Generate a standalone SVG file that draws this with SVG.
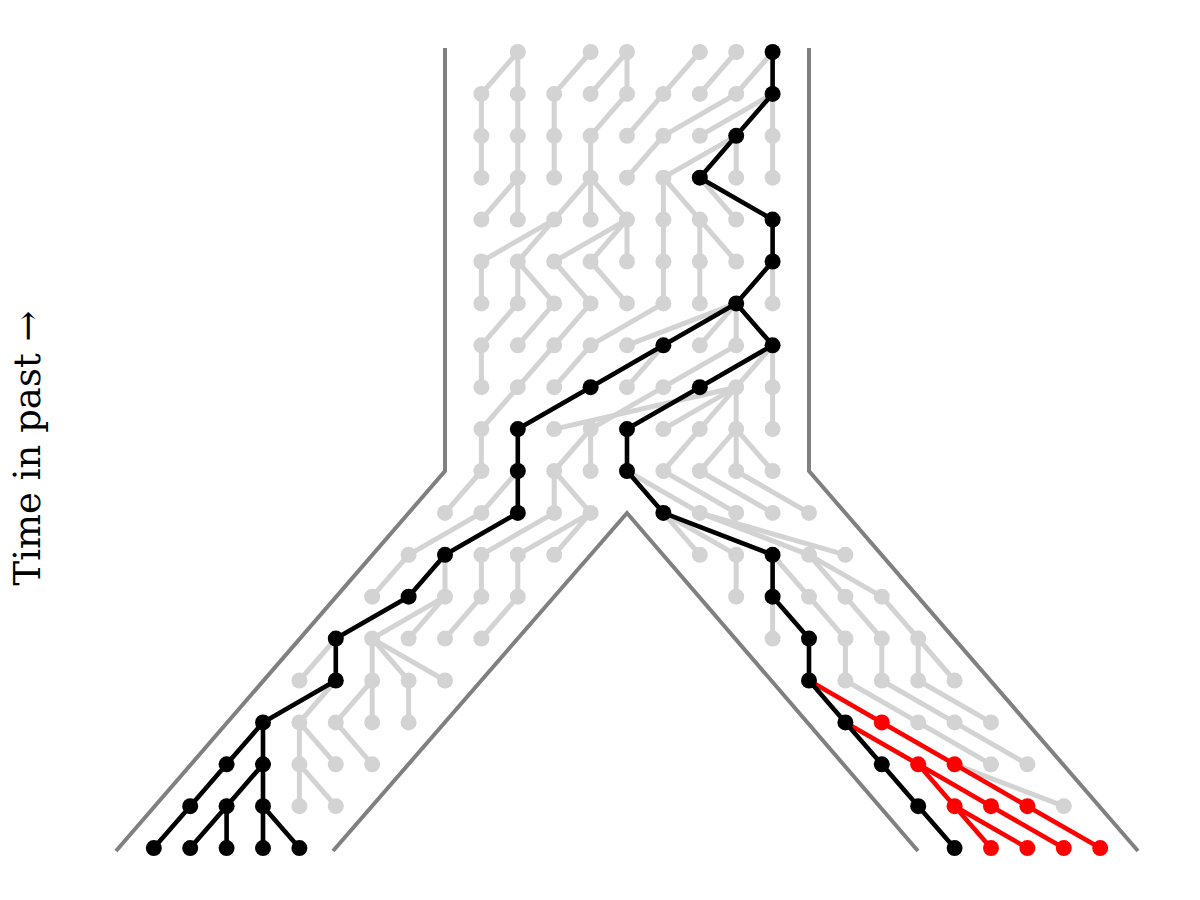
<svg xmlns="http://www.w3.org/2000/svg" width="1200" height="900" viewBox="0 0 1200 900">
<style>
.wall{fill:none;stroke:#808080;stroke-width:4}
.eg path{fill:none;stroke:#d3d3d3;stroke-width:5;stroke-linecap:round}
.eb path{fill:none;stroke:#000;stroke-width:4.6;stroke-linecap:round}
.er path{fill:none;stroke:#ff0000;stroke-width:4.6;stroke-linecap:round}
.g{fill:#d3d3d3}
.b{fill:#000}
.r{fill:#ff0000}
.lbl{font-family:"DejaVu Serif","Liberation Serif",serif;font-size:37px;fill:#000}
</style>
<rect width="1200" height="900" fill="#fff"/>
<g id="walls">
<path class="wall" d="M445 48V471L116 851"/>
<path class="wall" d="M809 48V471L1138 851"/>
<path class="wall" d="M333 851L627 513L918 851"/>
</g>
<text class="lbl" transform="translate(40,448) rotate(-90)" text-anchor="middle">Time in past →</text>
<g id="connectors">
<g class="eg">
<path d="M481.4 93.9L517.8 52"/><path d="M517.8 93.9L517.8 52"/><path d="M554.2 93.9L590.6 52"/><path d="M590.6 93.9L627 52"/><path d="M627 93.9L627 52"/><path d="M663.4 93.9L699.8 52"/><path d="M699.8 93.9L736.2 52"/><path d="M736.2 93.9L772.6 52"/>
<path d="M481.4 135.8L481.4 93.9"/><path d="M517.8 135.8L517.8 93.9"/><path d="M554.2 135.8L554.2 93.9"/><path d="M590.6 135.8L627 93.9"/><path d="M627 135.8L663.4 93.9"/><path d="M663.4 135.8L736.2 93.9"/><path d="M699.8 135.8L772.6 93.9"/><path d="M772.6 135.8L772.6 93.9"/>
<path d="M481.4 177.7L481.4 135.8"/><path d="M517.8 177.7L517.8 135.8"/><path d="M554.2 177.7L554.2 135.8"/><path d="M590.6 177.7L590.6 135.8"/><path d="M627 177.7L663.4 135.8"/><path d="M663.4 177.7L736.2 135.8"/><path d="M736.2 177.7L736.2 135.8"/><path d="M772.6 177.7L772.6 135.8"/>
<path d="M481.4 219.6L517.8 177.7"/><path d="M517.8 219.6L517.8 177.7"/><path d="M554.2 219.6L590.6 177.7"/><path d="M590.6 219.6L590.6 177.7"/><path d="M627 219.6L590.6 177.7"/><path d="M663.4 219.6L663.4 177.7"/><path d="M699.8 219.6L663.4 177.7"/><path d="M736.2 219.6L699.8 177.7"/>
<path d="M481.4 261.5L554.2 219.6"/><path d="M517.8 261.5L554.2 219.6"/><path d="M554.2 261.5L627 219.6"/><path d="M590.6 261.5L627 219.6"/><path d="M627 261.5L627 219.6"/><path d="M663.4 261.5L663.4 219.6"/><path d="M699.8 261.5L699.8 219.6"/><path d="M736.2 261.5L699.8 219.6"/>
<path d="M481.4 303.4L481.4 261.5"/><path d="M517.8 303.4L517.8 261.5"/><path d="M554.2 303.4L517.8 261.5"/><path d="M590.6 303.4L554.2 261.5"/><path d="M627 303.4L590.6 261.5"/><path d="M663.4 303.4L663.4 261.5"/><path d="M699.8 303.4L699.8 261.5"/><path d="M772.6 303.4L772.6 261.5"/>
<path d="M481.4 345.3L517.8 303.4"/><path d="M517.8 345.3L554.2 303.4"/><path d="M554.2 345.3L590.6 303.4"/><path d="M590.6 345.3L663.4 303.4"/><path d="M627 345.3L736.2 303.4"/><path d="M699.8 345.3L736.2 303.4"/><path d="M736.2 345.3L736.2 303.4"/>
<path d="M481.4 387.2L481.4 345.3"/><path d="M517.8 387.2L554.2 345.3"/><path d="M554.2 387.2L590.6 345.3"/><path d="M627 387.2L663.4 345.3"/><path d="M663.4 387.2L736.2 345.3"/><path d="M736.2 387.2L772.6 345.3"/><path d="M772.6 387.2L772.6 345.3"/>
<path d="M481.4 429.1L517.8 387.2"/><path d="M554.2 429.1L736.2 387.2"/><path d="M590.6 429.1L663.4 387.2"/><path d="M663.4 429.1L736.2 387.2"/><path d="M699.8 429.1L736.2 387.2"/><path d="M736.2 429.1L736.2 387.2"/><path d="M772.6 429.1L772.6 387.2"/>
<path d="M481.4 471L481.4 429.1"/><path d="M554.2 471L590.6 429.1"/><path d="M590.6 471L590.6 429.1"/><path d="M663.4 471L699.8 429.1"/><path d="M699.8 471L736.2 429.1"/><path d="M736.2 471L736.2 429.1"/><path d="M772.6 471L736.2 429.1"/>
<path d="M445 512.9L481.4 471"/><path d="M481.4 512.9L517.8 471"/><path d="M554.2 512.9L554.2 471"/><path d="M590.6 512.9L554.2 471"/><path d="M699.8 512.9L627 471"/><path d="M736.2 512.9L663.4 471"/><path d="M772.6 512.9L699.8 471"/><path d="M809 512.9L736.2 471"/>
<path d="M408.6 554.8L481.4 512.9"/><path d="M481.4 554.8L554.2 512.9"/><path d="M517.8 554.8L590.6 512.9"/><path d="M554.2 554.8L590.6 512.9"/><path d="M699.8 554.8L663.4 512.9"/><path d="M736.2 554.8L663.4 512.9"/><path d="M809 554.8L699.8 512.9"/><path d="M845.4 554.8L699.8 512.9"/>
<path d="M372.2 596.7L408.6 554.8"/><path d="M445 596.7L445 554.8"/><path d="M481.4 596.7L481.4 554.8"/><path d="M517.8 596.7L517.8 554.8"/><path d="M736.2 596.7L736.2 554.8"/><path d="M809 596.7L772.6 554.8"/><path d="M845.4 596.7L809 554.8"/><path d="M881.8 596.7L809 554.8"/>
<path d="M372.2 638.6L445 596.7"/><path d="M408.6 638.6L445 596.7"/><path d="M445 638.6L481.4 596.7"/><path d="M481.4 638.6L517.8 596.7"/><path d="M772.6 638.6L772.6 596.7"/><path d="M845.4 638.6L809 596.7"/><path d="M881.8 638.6L845.4 596.7"/><path d="M918.2 638.6L881.8 596.7"/>
<path d="M299.4 680.5L335.8 638.6"/><path d="M372.2 680.5L372.2 638.6"/><path d="M408.6 680.5L372.2 638.6"/><path d="M445 680.5L372.2 638.6"/><path d="M845.4 680.5L845.4 638.6"/><path d="M881.8 680.5L881.8 638.6"/><path d="M918.2 680.5L918.2 638.6"/><path d="M954.6 680.5L918.2 638.6"/>
<path d="M299.4 722.4L335.8 680.5"/><path d="M335.8 722.4L372.2 680.5"/><path d="M372.2 722.4L372.2 680.5"/><path d="M408.6 722.4L408.6 680.5"/><path d="M918.2 722.4L845.4 680.5"/><path d="M954.6 722.4L881.8 680.5"/><path d="M991 722.4L918.2 680.5"/>
<path d="M299.4 764.3L299.4 722.4"/><path d="M335.8 764.3L299.4 722.4"/><path d="M372.2 764.3L335.8 722.4"/><path d="M991 764.3L918.2 722.4"/><path d="M1027.4 764.3L954.6 722.4"/>
<path d="M299.4 806.2L299.4 764.3"/><path d="M335.8 806.2L299.4 764.3"/><path d="M1063.8 806.2L954.6 764.3"/>
</g>
<g class="er">
<path d="M881.8 722.4L809 680.5"/><path d="M918.2 764.3L845.4 722.4"/><path d="M954.6 764.3L881.8 722.4"/><path d="M954.6 806.2L918.2 764.3"/><path d="M991 806.2L918.2 764.3"/><path d="M1027.4 806.2L954.6 764.3"/><path d="M991 848.1L954.6 806.2"/><path d="M1027.4 848.1L954.6 806.2"/><path d="M1063.8 848.1L991 806.2"/><path d="M1100.2 848.1L1027.4 806.2"/>
</g>
<g class="eb">
<path d="M772.6 93.9L772.6 52"/><path d="M736.2 135.8L772.6 93.9"/><path d="M699.8 177.7L736.2 135.8"/><path d="M772.6 219.6L699.8 177.7"/><path d="M772.6 261.5L772.6 219.6"/><path d="M736.2 303.4L772.6 261.5"/><path d="M663.4 345.3L736.2 303.4"/><path d="M772.6 345.3L736.2 303.4"/><path d="M590.6 387.2L663.4 345.3"/><path d="M699.8 387.2L772.6 345.3"/><path d="M517.8 429.1L590.6 387.2"/><path d="M627 429.1L699.8 387.2"/><path d="M517.8 471L517.8 429.1"/><path d="M627 471L627 429.1"/><path d="M517.8 512.9L517.8 471"/><path d="M663.4 512.9L627 471"/><path d="M445 554.8L517.8 512.9"/><path d="M772.6 554.8L663.4 512.9"/><path d="M408.6 596.7L445 554.8"/><path d="M772.6 596.7L772.6 554.8"/><path d="M335.8 638.6L408.6 596.7"/><path d="M809 638.6L772.6 596.7"/><path d="M335.8 680.5L335.8 638.6"/><path d="M809 680.5L809 638.6"/><path d="M263 722.4L335.8 680.5"/><path d="M845.4 722.4L809 680.5"/><path d="M226.6 764.3L263 722.4"/><path d="M263 764.3L263 722.4"/><path d="M881.8 764.3L845.4 722.4"/><path d="M190.2 806.2L226.6 764.3"/><path d="M226.6 806.2L263 764.3"/><path d="M263 806.2L263 764.3"/><path d="M918.2 806.2L881.8 764.3"/><path d="M153.8 848.1L190.2 806.2"/><path d="M190.2 848.1L226.6 806.2"/><path d="M226.6 848.1L226.6 806.2"/><path d="M263 848.1L263 806.2"/><path d="M299.4 848.1L263 806.2"/><path d="M954.6 848.1L918.2 806.2"/>
</g>
</g>
<g id="nodes">
<g id="n0_2"><circle class="g" cx="517.8" cy="52" r="8"/></g><g id="n0_4"><circle class="g" cx="590.6" cy="52" r="8"/></g><g id="n0_5"><circle class="g" cx="627" cy="52" r="8"/></g><g id="n0_7"><circle class="g" cx="699.8" cy="52" r="8"/></g><g id="n0_8"><circle class="g" cx="736.2" cy="52" r="8"/></g>
<g id="n1_1"><circle class="g" cx="481.4" cy="93.9" r="8"/></g><g id="n1_2"><circle class="g" cx="517.8" cy="93.9" r="8"/></g><g id="n1_3"><circle class="g" cx="554.2" cy="93.9" r="8"/></g><g id="n1_4"><circle class="g" cx="590.6" cy="93.9" r="8"/></g><g id="n1_5"><circle class="g" cx="627" cy="93.9" r="8"/></g><g id="n1_6"><circle class="g" cx="663.4" cy="93.9" r="8"/></g><g id="n1_7"><circle class="g" cx="699.8" cy="93.9" r="8"/></g><g id="n1_8"><circle class="g" cx="736.2" cy="93.9" r="8"/></g>
<g id="n2_1"><circle class="g" cx="481.4" cy="135.8" r="8"/></g><g id="n2_2"><circle class="g" cx="517.8" cy="135.8" r="8"/></g><g id="n2_3"><circle class="g" cx="554.2" cy="135.8" r="8"/></g><g id="n2_4"><circle class="g" cx="590.6" cy="135.8" r="8"/></g><g id="n2_5"><circle class="g" cx="627" cy="135.8" r="8"/></g><g id="n2_6"><circle class="g" cx="663.4" cy="135.8" r="8"/></g><g id="n2_7"><circle class="g" cx="699.8" cy="135.8" r="8"/></g><g id="n2_9"><circle class="g" cx="772.6" cy="135.8" r="8"/></g>
<g id="n3_1"><circle class="g" cx="481.4" cy="177.7" r="8"/></g><g id="n3_2"><circle class="g" cx="517.8" cy="177.7" r="8"/></g><g id="n3_3"><circle class="g" cx="554.2" cy="177.7" r="8"/></g><g id="n3_4"><circle class="g" cx="590.6" cy="177.7" r="8"/></g><g id="n3_5"><circle class="g" cx="627" cy="177.7" r="8"/></g><g id="n3_6"><circle class="g" cx="663.4" cy="177.7" r="8"/></g><g id="n3_8"><circle class="g" cx="736.2" cy="177.7" r="8"/></g><g id="n3_9"><circle class="g" cx="772.6" cy="177.7" r="8"/></g>
<g id="n4_1"><circle class="g" cx="481.4" cy="219.6" r="8"/></g><g id="n4_2"><circle class="g" cx="517.8" cy="219.6" r="8"/></g><g id="n4_3"><circle class="g" cx="554.2" cy="219.6" r="8"/></g><g id="n4_4"><circle class="g" cx="590.6" cy="219.6" r="8"/></g><g id="n4_5"><circle class="g" cx="627" cy="219.6" r="8"/></g><g id="n4_6"><circle class="g" cx="663.4" cy="219.6" r="8"/></g><g id="n4_7"><circle class="g" cx="699.8" cy="219.6" r="8"/></g><g id="n4_8"><circle class="g" cx="736.2" cy="219.6" r="8"/></g>
<g id="n5_1"><circle class="g" cx="481.4" cy="261.5" r="8"/></g><g id="n5_2"><circle class="g" cx="517.8" cy="261.5" r="8"/></g><g id="n5_3"><circle class="g" cx="554.2" cy="261.5" r="8"/></g><g id="n5_4"><circle class="g" cx="590.6" cy="261.5" r="8"/></g><g id="n5_5"><circle class="g" cx="627" cy="261.5" r="8"/></g><g id="n5_6"><circle class="g" cx="663.4" cy="261.5" r="8"/></g><g id="n5_7"><circle class="g" cx="699.8" cy="261.5" r="8"/></g><g id="n5_8"><circle class="g" cx="736.2" cy="261.5" r="8"/></g>
<g id="n6_1"><circle class="g" cx="481.4" cy="303.4" r="8"/></g><g id="n6_2"><circle class="g" cx="517.8" cy="303.4" r="8"/></g><g id="n6_3"><circle class="g" cx="554.2" cy="303.4" r="8"/></g><g id="n6_4"><circle class="g" cx="590.6" cy="303.4" r="8"/></g><g id="n6_5"><circle class="g" cx="627" cy="303.4" r="8"/></g><g id="n6_6"><circle class="g" cx="663.4" cy="303.4" r="8"/></g><g id="n6_7"><circle class="g" cx="699.8" cy="303.4" r="8"/></g><g id="n6_9"><circle class="g" cx="772.6" cy="303.4" r="8"/></g>
<g id="n7_1"><circle class="g" cx="481.4" cy="345.3" r="8"/></g><g id="n7_2"><circle class="g" cx="517.8" cy="345.3" r="8"/></g><g id="n7_3"><circle class="g" cx="554.2" cy="345.3" r="8"/></g><g id="n7_4"><circle class="g" cx="590.6" cy="345.3" r="8"/></g><g id="n7_5"><circle class="g" cx="627" cy="345.3" r="8"/></g><g id="n7_7"><circle class="g" cx="699.8" cy="345.3" r="8"/></g><g id="n7_8"><circle class="g" cx="736.2" cy="345.3" r="8"/></g>
<g id="n8_1"><circle class="g" cx="481.4" cy="387.2" r="8"/></g><g id="n8_2"><circle class="g" cx="517.8" cy="387.2" r="8"/></g><g id="n8_3"><circle class="g" cx="554.2" cy="387.2" r="8"/></g><g id="n8_5"><circle class="g" cx="627" cy="387.2" r="8"/></g><g id="n8_6"><circle class="g" cx="663.4" cy="387.2" r="8"/></g><g id="n8_8"><circle class="g" cx="736.2" cy="387.2" r="8"/></g><g id="n8_9"><circle class="g" cx="772.6" cy="387.2" r="8"/></g>
<g id="n9_1"><circle class="g" cx="481.4" cy="429.1" r="8"/></g><g id="n9_3"><circle class="g" cx="554.2" cy="429.1" r="8"/></g><g id="n9_4"><circle class="g" cx="590.6" cy="429.1" r="8"/></g><g id="n9_6"><circle class="g" cx="663.4" cy="429.1" r="8"/></g><g id="n9_7"><circle class="g" cx="699.8" cy="429.1" r="8"/></g><g id="n9_8"><circle class="g" cx="736.2" cy="429.1" r="8"/></g><g id="n9_9"><circle class="g" cx="772.6" cy="429.1" r="8"/></g>
<g id="n10_1"><circle class="g" cx="481.4" cy="471" r="8"/></g><g id="n10_3"><circle class="g" cx="554.2" cy="471" r="8"/></g><g id="n10_4"><circle class="g" cx="590.6" cy="471" r="8"/></g><g id="n10_6"><circle class="g" cx="663.4" cy="471" r="8"/></g><g id="n10_7"><circle class="g" cx="699.8" cy="471" r="8"/></g><g id="n10_8"><circle class="g" cx="736.2" cy="471" r="8"/></g><g id="n10_9"><circle class="g" cx="772.6" cy="471" r="8"/></g>
<g id="n11_0"><circle class="g" cx="445" cy="512.9" r="8"/></g><g id="n11_1"><circle class="g" cx="481.4" cy="512.9" r="8"/></g><g id="n11_3"><circle class="g" cx="554.2" cy="512.9" r="8"/></g><g id="n11_4"><circle class="g" cx="590.6" cy="512.9" r="8"/></g><g id="n11_7"><circle class="g" cx="699.8" cy="512.9" r="8"/></g><g id="n11_8"><circle class="g" cx="736.2" cy="512.9" r="8"/></g><g id="n11_9"><circle class="g" cx="772.6" cy="512.9" r="8"/></g><g id="n11_10"><circle class="g" cx="809" cy="512.9" r="8"/></g>
<g id="n12_m1"><circle class="g" cx="408.6" cy="554.8" r="8"/></g><g id="n12_1"><circle class="g" cx="481.4" cy="554.8" r="8"/></g><g id="n12_2"><circle class="g" cx="517.8" cy="554.8" r="8"/></g><g id="n12_3"><circle class="g" cx="554.2" cy="554.8" r="8"/></g><g id="n12_7"><circle class="g" cx="699.8" cy="554.8" r="8"/></g><g id="n12_8"><circle class="g" cx="736.2" cy="554.8" r="8"/></g><g id="n12_10"><circle class="g" cx="809" cy="554.8" r="8"/></g><g id="n12_11"><circle class="g" cx="845.4" cy="554.8" r="8"/></g>
<g id="n13_m2"><circle class="g" cx="372.2" cy="596.7" r="8"/></g><g id="n13_0"><circle class="g" cx="445" cy="596.7" r="8"/></g><g id="n13_1"><circle class="g" cx="481.4" cy="596.7" r="8"/></g><g id="n13_2"><circle class="g" cx="517.8" cy="596.7" r="8"/></g><g id="n13_8"><circle class="g" cx="736.2" cy="596.7" r="8"/></g><g id="n13_10"><circle class="g" cx="809" cy="596.7" r="8"/></g><g id="n13_11"><circle class="g" cx="845.4" cy="596.7" r="8"/></g><g id="n13_12"><circle class="g" cx="881.8" cy="596.7" r="8"/></g>
<g id="n14_m2"><circle class="g" cx="372.2" cy="638.6" r="8"/></g><g id="n14_m1"><circle class="g" cx="408.6" cy="638.6" r="8"/></g><g id="n14_0"><circle class="g" cx="445" cy="638.6" r="8"/></g><g id="n14_1"><circle class="g" cx="481.4" cy="638.6" r="8"/></g><g id="n14_9"><circle class="g" cx="772.6" cy="638.6" r="8"/></g><g id="n14_11"><circle class="g" cx="845.4" cy="638.6" r="8"/></g><g id="n14_12"><circle class="g" cx="881.8" cy="638.6" r="8"/></g><g id="n14_13"><circle class="g" cx="918.2" cy="638.6" r="8"/></g>
<g id="n15_m4"><circle class="g" cx="299.4" cy="680.5" r="8"/></g><g id="n15_m2"><circle class="g" cx="372.2" cy="680.5" r="8"/></g><g id="n15_m1"><circle class="g" cx="408.6" cy="680.5" r="8"/></g><g id="n15_0"><circle class="g" cx="445" cy="680.5" r="8"/></g><g id="n15_11"><circle class="g" cx="845.4" cy="680.5" r="8"/></g><g id="n15_12"><circle class="g" cx="881.8" cy="680.5" r="8"/></g><g id="n15_13"><circle class="g" cx="918.2" cy="680.5" r="8"/></g><g id="n15_14"><circle class="g" cx="954.6" cy="680.5" r="8"/></g>
<g id="n16_m4"><circle class="g" cx="299.4" cy="722.4" r="8"/></g><g id="n16_m3"><circle class="g" cx="335.8" cy="722.4" r="8"/></g><g id="n16_m2"><circle class="g" cx="372.2" cy="722.4" r="8"/></g><g id="n16_m1"><circle class="g" cx="408.6" cy="722.4" r="8"/></g><g id="n16_13"><circle class="g" cx="918.2" cy="722.4" r="8"/></g><g id="n16_14"><circle class="g" cx="954.6" cy="722.4" r="8"/></g><g id="n16_15"><circle class="g" cx="991" cy="722.4" r="8"/></g>
<g id="n17_m4"><circle class="g" cx="299.4" cy="764.3" r="8"/></g><g id="n17_m3"><circle class="g" cx="335.8" cy="764.3" r="8"/></g><g id="n17_m2"><circle class="g" cx="372.2" cy="764.3" r="8"/></g><g id="n17_15"><circle class="g" cx="991" cy="764.3" r="8"/></g><g id="n17_16"><circle class="g" cx="1027.4" cy="764.3" r="8"/></g>
<g id="n18_m4"><circle class="g" cx="299.4" cy="806.2" r="8"/></g><g id="n18_m3"><circle class="g" cx="335.8" cy="806.2" r="8"/></g><g id="n18_17"><circle class="g" cx="1063.8" cy="806.2" r="8"/></g>
<g id="n0_9"><circle class="b" cx="772.6" cy="52" r="8"/></g><g id="n1_9"><circle class="b" cx="772.6" cy="93.9" r="8"/></g><g id="n2_8"><circle class="b" cx="736.2" cy="135.8" r="8"/></g><g id="n3_7"><circle class="b" cx="699.8" cy="177.7" r="8"/></g><g id="n4_9"><circle class="b" cx="772.6" cy="219.6" r="8"/></g><g id="n5_9"><circle class="b" cx="772.6" cy="261.5" r="8"/></g><g id="n6_8"><circle class="b" cx="736.2" cy="303.4" r="8"/></g>
<g id="n7_6"><circle class="b" cx="663.4" cy="345.3" r="8"/></g><g id="n7_9"><circle class="b" cx="772.6" cy="345.3" r="8"/></g><g id="n8_4"><circle class="b" cx="590.6" cy="387.2" r="8"/></g><g id="n8_7"><circle class="b" cx="699.8" cy="387.2" r="8"/></g><g id="n9_2"><circle class="b" cx="517.8" cy="429.1" r="8"/></g><g id="n9_5"><circle class="b" cx="627" cy="429.1" r="8"/></g><g id="n10_2"><circle class="b" cx="517.8" cy="471" r="8"/></g><g id="n10_5"><circle class="b" cx="627" cy="471" r="8"/></g><g id="n11_2"><circle class="b" cx="517.8" cy="512.9" r="8"/></g><g id="n11_6"><circle class="b" cx="663.4" cy="512.9" r="8"/></g>
<g id="n12_0"><circle class="b" cx="445" cy="554.8" r="8"/></g><g id="n12_9"><circle class="b" cx="772.6" cy="554.8" r="8"/></g><g id="n13_m1"><circle class="b" cx="408.6" cy="596.7" r="8"/></g><g id="n13_9"><circle class="b" cx="772.6" cy="596.7" r="8"/></g><g id="n14_m3"><circle class="b" cx="335.8" cy="638.6" r="8"/></g><g id="n14_10"><circle class="b" cx="809" cy="638.6" r="8"/></g><g id="n15_m3"><circle class="b" cx="335.8" cy="680.5" r="8"/></g><g id="n15_10"><circle class="b" cx="809" cy="680.5" r="8"/></g>
<g id="n16_m5"><circle class="b" cx="263" cy="722.4" r="8"/></g><g id="n16_11"><circle class="b" cx="845.4" cy="722.4" r="8"/></g><g id="n17_m6"><circle class="b" cx="226.6" cy="764.3" r="8"/></g><g id="n17_m5"><circle class="b" cx="263" cy="764.3" r="8"/></g><g id="n17_12"><circle class="b" cx="881.8" cy="764.3" r="8"/></g>
<g id="n18_m7"><circle class="b" cx="190.2" cy="806.2" r="8"/></g><g id="n18_m6"><circle class="b" cx="226.6" cy="806.2" r="8"/></g><g id="n18_m5"><circle class="b" cx="263" cy="806.2" r="8"/></g><g id="n18_13"><circle class="b" cx="918.2" cy="806.2" r="8"/></g>
<g id="n19_m8"><circle class="b" cx="153.8" cy="848.1" r="8"/></g><g id="n19_m7"><circle class="b" cx="190.2" cy="848.1" r="8"/></g><g id="n19_m6"><circle class="b" cx="226.6" cy="848.1" r="8"/></g><g id="n19_m5"><circle class="b" cx="263" cy="848.1" r="8"/></g><g id="n19_m4"><circle class="b" cx="299.4" cy="848.1" r="8"/></g><g id="n19_14"><circle class="b" cx="954.6" cy="848.1" r="8"/></g>
<g id="n16_12"><circle class="r" cx="881.8" cy="722.4" r="8"/></g><g id="n17_13"><circle class="r" cx="918.2" cy="764.3" r="8"/></g><g id="n17_14"><circle class="r" cx="954.6" cy="764.3" r="8"/></g><g id="n18_14"><circle class="r" cx="954.6" cy="806.2" r="8"/></g><g id="n18_15"><circle class="r" cx="991" cy="806.2" r="8"/></g><g id="n18_16"><circle class="r" cx="1027.4" cy="806.2" r="8"/></g>
<g id="n19_15"><circle class="r" cx="991" cy="848.1" r="8"/></g><g id="n19_16"><circle class="r" cx="1027.4" cy="848.1" r="8"/></g><g id="n19_17"><circle class="r" cx="1063.8" cy="848.1" r="8"/></g><g id="n19_18"><circle class="r" cx="1100.2" cy="848.1" r="8"/></g>
</g>
</svg>
